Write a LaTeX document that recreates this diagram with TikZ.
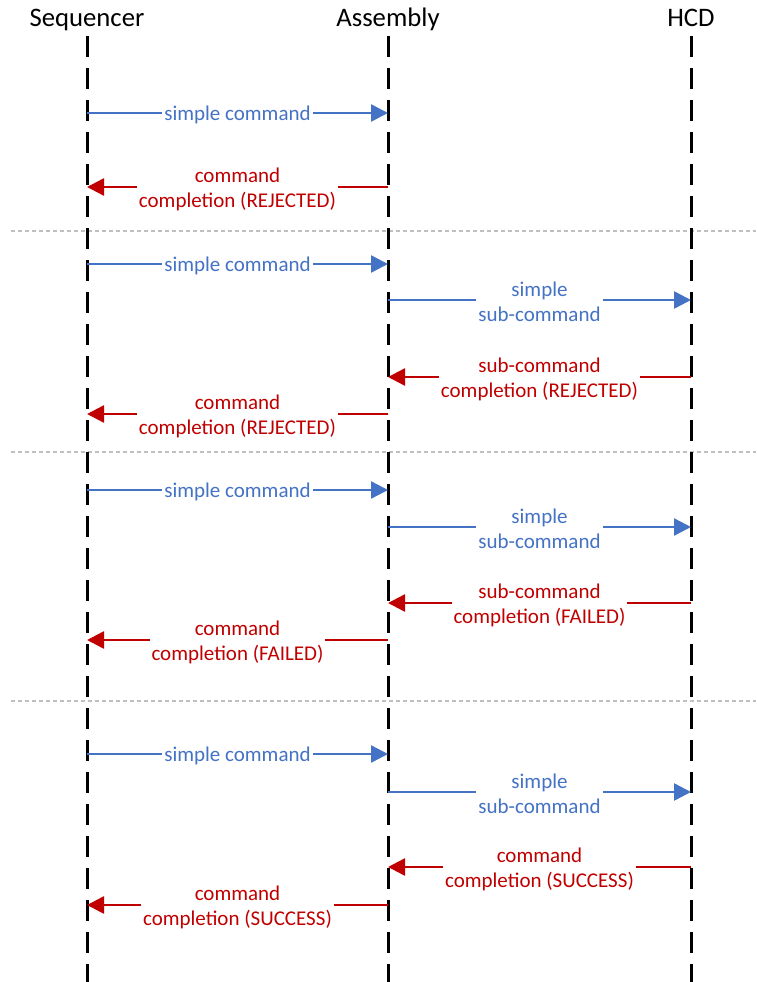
\documentclass[tikz,border=0pt]{standalone}
\usepackage{fontspec}
\setmainfont{Carlito}
\usetikzlibrary{arrows.meta}
\definecolor{msgblue}{HTML}{4472C4}
\definecolor{msgred}{HTML}{C00000}
\definecolor{sepgray}{HTML}{BFBFBF}

% one message: name, start x, end x, y, style, label
\newcommand\seqmsg[6]{%
  \coordinate (#1-a) at (#2,#4);
  \coordinate (#1-b) at (#3,#4);
  \draw[#5] (#1-a) -- node[lbl] (#1-l) {#6} (#1-b);
}

\begin{document}
\begin{tikzpicture}[x=1pt,y=-1pt,
  header/.style={font=\fontsize{26.7}{32}\selectfont, anchor=base, inner sep=0pt},
  lifeline/.style={black, line width=3pt, dash pattern=on 21pt off 11pt},
  separator/.style={sepgray, line width=1.5pt, dash pattern=on 4pt off 3pt},
  msg/.style={line width=2.5pt, -{Triangle[length=17pt,width=17pt]}},
  request/.style={msg, msgblue},
  reply/.style={msg, msgred},
  lbl/.style={fill=white, inner xsep=2pt, inner ysep=0pt, align=center,
              yshift=-2pt, font=\fontsize{21}{25}\selectfont},
]
\useasboundingbox (0,0) rectangle (756,982);

% participants
\node[header] (seq) at (87,27)  {Sequencer};
\node[header] (asm) at (388,27) {Assembly};
\node[header] (hcd) at (691,27) {HCD};

% scenario separators
\foreach \n/\y in {sep1/231, sep2/452, sep3/701} {
  \coordinate (\n-l) at (11,\y);
  \coordinate (\n-r) at (756,\y);
  \draw[separator] (\n-l) -- (\n-r);
}

% lifelines
\foreach \n/\x in {seq/87, asm/388, hcd/691} {
  \coordinate (\n-top) at (\x,36);
  \coordinate (\n-bot) at (\x,982);
  \draw[lifeline] (\n-top) -- (\n-bot);
}

% scenario 1: rejected by the assembly
\seqmsg{m1}{87}{388}{113}{request}{simple command}
\seqmsg{m2}{388}{87}{187}{reply}{command\\completion (REJECTED)}

% scenario 2: rejected by the HCD
\seqmsg{m3}{87}{388}{264}{request}{simple command}
\seqmsg{m4}{388}{691}{300}{request}{simple\\sub-command}
\seqmsg{m5}{691}{388}{377}{reply}{sub-command\\completion (REJECTED)}
\seqmsg{m6}{388}{87}{414}{reply}{command\\completion (REJECTED)}

% scenario 3: failure in the HCD
\seqmsg{m7}{87}{388}{490}{request}{simple command}
\seqmsg{m8}{388}{691}{527}{request}{simple\\sub-command}
\seqmsg{m9}{691}{388}{603}{reply}{sub-command\\completion (FAILED)}
\seqmsg{m10}{388}{87}{640}{reply}{command\\completion (FAILED)}

% scenario 4: success
\seqmsg{m11}{87}{388}{754}{request}{simple command}
\seqmsg{m12}{388}{691}{792}{request}{simple\\sub-command}
\seqmsg{m13}{691}{388}{867}{reply}{command\\completion (SUCCESS)}
\seqmsg{m14}{388}{87}{905}{reply}{command\\completion (SUCCESS)}
\end{tikzpicture}
\end{document}
